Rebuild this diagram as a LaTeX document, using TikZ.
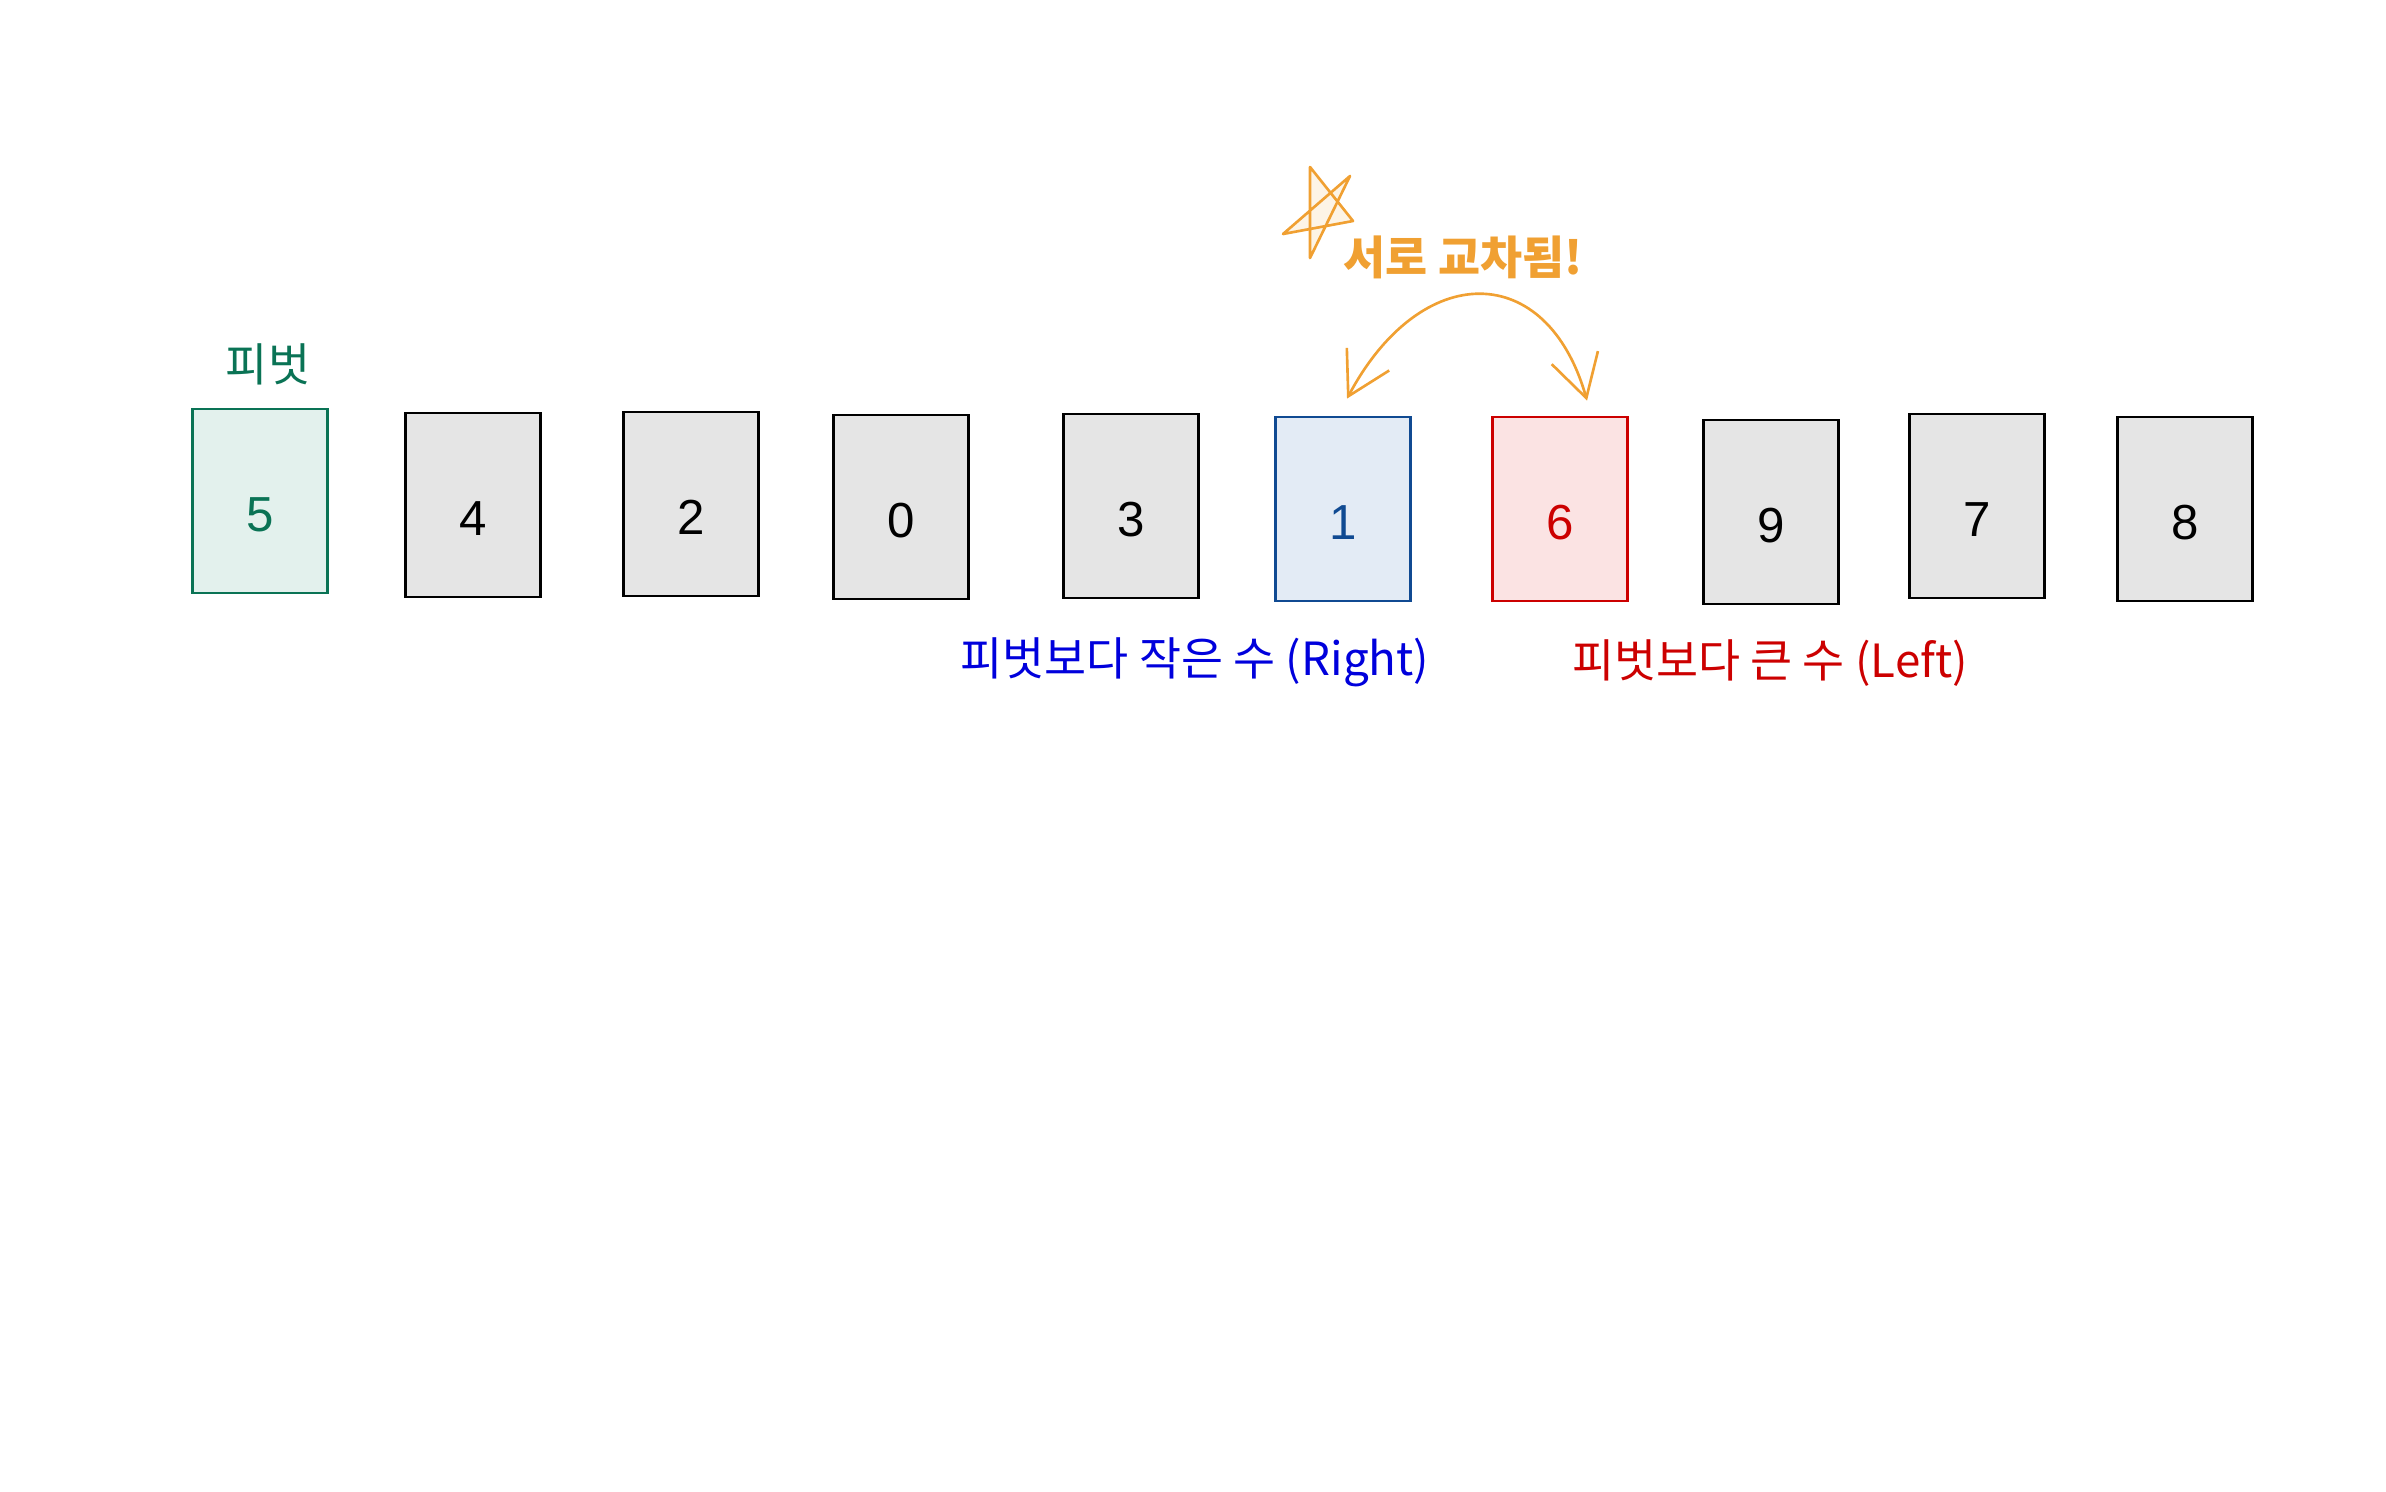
\documentclass[tikz,border=0pt]{standalone}
\usepackage{fontspec}
\setmainfont{Liberation Sans}
\newfontfamily\krfont{Noto Sans CJK KR}
\usepackage{tikz}
\usetikzlibrary{arrows.meta, positioning}
\definecolor{PivotGreen}{RGB}{10,115,85}
\definecolor{PivotFill}{RGB}{227,241,237}
\definecolor{CardGray}{RGB}{229,229,229}
\definecolor{SmallBlue}{RGB}{16,74,146}
\definecolor{SmallFill}{RGB}{227,235,245}
\definecolor{LabelBlue}{RGB}{0,0,220}
\definecolor{BigRed}{RGB}{204,0,0}
\definecolor{BigFill}{RGB}{251,227,227}
\definecolor{SwapOrange}{RGB}{240,160,50}

\begin{document}
\begin{tikzpicture}[x=0.01cm, y=-0.01cm,
    card/.style={draw, line width=0.75pt, minimum width=1.35cm, minimum height=1.84cm,
                 inner sep=0pt, text height=0.61cm, text depth=0pt,
                 font=\fontsize{14}{16}\selectfont},
    graycard/.style={card, fill=CardGray},
    krlabel/.style={font=\krfont\fontsize{13}{15}\selectfont, inner sep=0pt},
    swaparrow/.style={SwapOrange, line width=0.75pt,
                      {Straight Barb[length=0.42cm, width=0.48cm]}-{Straight Barb[length=0.42cm, width=0.48cm]}}]
      \useasboundingbox (0,0) rectangle (2386,1491);

      % pivot card
      \node[card, draw=PivotGreen, fill=PivotFill, text=PivotGreen] (c5) at (260,501) {5};
      \node[krlabel, text=PivotGreen] (pivotlbl) at (268,364) {피벗};

      % remaining cards
      \node[graycard] (c4) at (473,505) {4};
      \node[graycard] (c2) at (691,504) {2};
      \node[graycard] (c0) at (901,507) {0};
      \node[graycard] (c3) at (1131,506) {3};
      \node[card, draw=SmallBlue, fill=SmallFill, text=SmallBlue] (c1) at (1343,509) {1};
      \node[card, draw=BigRed, fill=BigFill, text=BigRed] (c6) at (1560,509) {6};
      \node[graycard] (c9) at (1771,512) {9};
      \node[graycard] (c7) at (1977,506) {7};
      \node[graycard] (c8) at (2185,509) {8};

      % labels under the swapped cards
      \node[krlabel, text=LabelBlue] (smalllbl) at (1195,662) {피벗보다 작은 수 (Right)};
      \node[krlabel, text=BigRed] (biglbl) at (1770,663) {피벗보다 큰 수 (Left)};

      % swap arrow and note
      \draw[swaparrow] ([xshift=0.04cm, yshift=0.17cm]c1.north)
            .. controls +(74,-139) and +(-40,-141) .. ([xshift=0.27cm, yshift=0.15cm]c6.north);
      \node[krlabel, font=\krfont\bfseries\fontsize{13}{15}\selectfont, text=SwapOrange]
            (swaplbl) at (1463,257) {서로 교차됨!};
      \draw[SwapOrange, line width=0.75pt, line join=round, fill=SwapOrange!12]
            (1310,167) -- (1353,221) -- (1283,234) -- (1350,176) -- (1310,258) -- cycle;

    \end{tikzpicture}
\end{document}
